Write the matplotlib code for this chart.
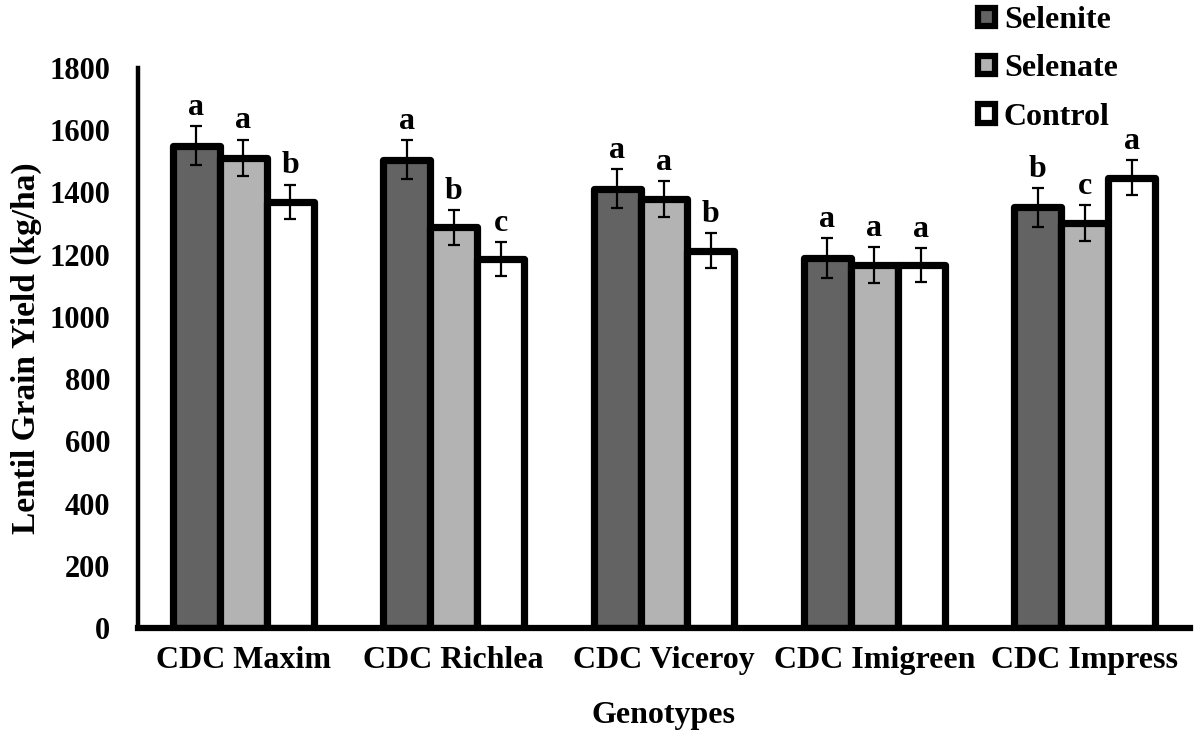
import numpy as np
import matplotlib
matplotlib.use("Agg")
import matplotlib.pyplot as plt
from matplotlib.patches import Patch

plt.rcParams['font.family'] = ['Liberation Serif', 'DejaVu Serif']
plt.rcParams['font.weight'] = 'bold'

genotypes = ["CDC Maxim", "CDC Richlea", "CDC Viceroy", "CDC Imigreen", "CDC Impress"]
treatments = ["Selenite", "Selenate", "Control"]

selenite = [1550, 1505, 1412, 1190, 1352]
selenate = [1512, 1288, 1378, 1167, 1301]
control = [1370, 1185, 1213, 1167, 1447]

selenite_err = [63, 62, 63, 64, 63]
selenate_err = [58, 56, 58, 57, 57]
control_err = [55, 55, 56, 55, 56]

selenite_lab = ["a", "a", "a", "a", "b"]
selenate_lab = ["a", "b", "a", "a", "c"]
control_lab = ["b", "c", "b", "a", "a"]

colors = ["#636363", "#b3b3b3", "#ffffff"]

fig = plt.figure(figsize=(11.98, 7.31), dpi=100)
ax = fig.add_axes([0.1152, 0.1409, 0.8781, 0.7661])

x = np.arange(len(genotypes))
w = 0.223
series = [
    (selenite, selenite_err, selenite_lab),
    (selenate, selenate_err, selenate_lab),
    (control, control_err, control_lab),
]

for i, (vals, errs, labs) in enumerate(series):
    xpos = x + (i - 1) * w
    ax.bar(xpos, vals, width=w, color=colors[i], edgecolor="black",
           linewidth=5.2, joinstyle="round", zorder=2 + i * 0.1)
    ax.errorbar(xpos, vals, yerr=errs, fmt="none", ecolor="black",
                elinewidth=1.6, capsize=4.3, capthick=1.6, zorder=5)
    for xp, v, e, lab in zip(xpos, vals, errs, labs):
        ax.annotate(lab, (xp, v + e), xytext=(0, 3), textcoords="offset points",
                    ha="center", va="bottom", fontsize=23, fontweight="bold")

ax.set_xlim(-0.5, 4.5)
ax.set_ylim(0, 1800)
ax.set_yticks(np.arange(0, 1801, 200))
ax.set_xticks(x)
ax.set_xticklabels(genotypes)
ax.tick_params(axis="y", length=0, labelsize=22, pad=20)
ax.tick_params(axis="x", length=0, labelsize=23, pad=13)

for s in ["top", "right"]:
    ax.spines[s].set_visible(False)
ax.spines["left"].set_linewidth(3.2)
ax.spines["bottom"].set_linewidth(4.5)
ax.spines["bottom"].set_zorder(6)

ax.set_ylabel("Lentil Grain Yield (kg/ha)", fontsize=24, fontweight="bold", labelpad=5)
ax.set_xlabel("Genotypes", fontsize=23, fontweight="bold", labelpad=19)

handles = [Patch(facecolor=c, edgecolor="black", linewidth=4.5, joinstyle="round") for c in colors]
fig.legend(handles, treatments, loc="upper left", bbox_to_anchor=(0.798, 1.022),
           frameon=False, fontsize=23, handlelength=0.52, handleheight=0.52,
           handletextpad=0.28, labelspacing=0.6, borderpad=0.2)

fig.savefig("out.png", dpi=100)
